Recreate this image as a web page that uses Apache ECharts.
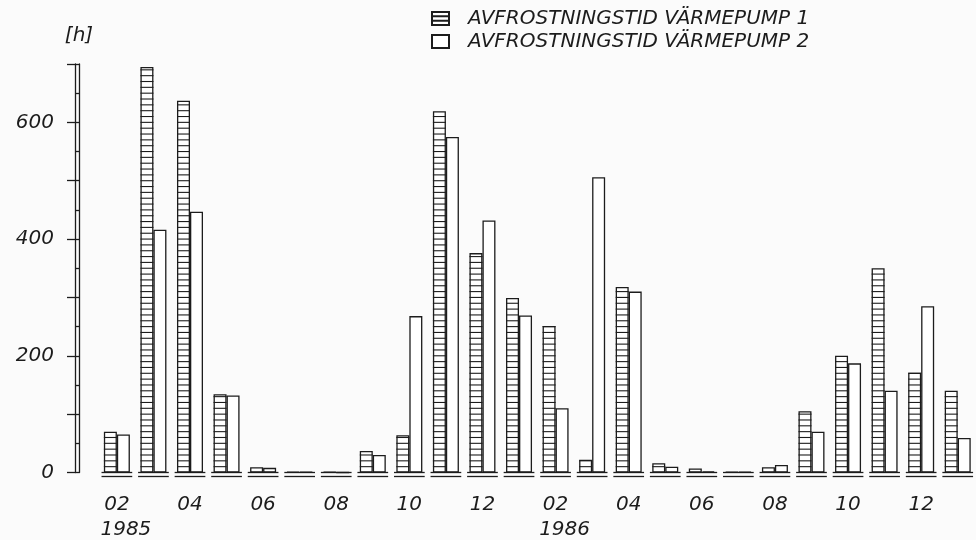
<!DOCTYPE html>
<html>
<head>
<meta charset="utf-8">
<script src="https://cdn.jsdelivr.net/npm/echarts@6/dist/echarts.min.js"></script>
<style>
  html, body { margin: 0; padding: 0; background: #fbfbfb; }
  #chart { width: 976px; height: 540px; }
</style>
</head>
<body>
<div id="chart"></div>
<script>
// Monthly defrost time, Feb 1985 – Jan 1987
const months = ['02','03','04','05','06','07','08','09','10','11','12','01',
                '02','03','04','05','06','07','08','09','10','11','12','01'];
const years = ['1985','','','','','','','','','','','',
               '1986','','','','','','','','','','',''];
const pump1 = [70, 695, 637, 134, 9, 1, 1, 37, 64, 619, 376, 299,
               251, 22, 318, 16, 7, 1, 9, 105, 200, 350, 171, 140];
const pump2 = [65, 416, 447, 132, 8, 1, 0, 30, 268, 575, 432, 269,
               110, 506, 310, 10, 2, 1, 13, 70, 187, 140, 285, 59];
const yLabelValues = [0, 200, 400, 600];
const seriesNames = ['AVFROSTNINGSTID VÄRMEPUMP 1', 'AVFROSTNINGSTID VÄRMEPUMP 2'];

const INK = '#1c1c1c';
const FONT = {
  fontFamily: 'DejaVu Sans',
  fontStyle: 'italic',
  fontWeight: 200,
  fontSize: 20,
  color: INK
};
const BAR_W = 13;

const chart = echarts.init(document.getElementById('chart'), null, { renderer: 'canvas' });

chart.setOption({
  backgroundColor: '#fbfbfb',
  animation: false,
  grid: { left: 98.6, right: -4.6, top: 64, bottom: 66 },
  legend: {
    orient: 'vertical',
    left: 431,
    top: 8.5,
    padding: 0,
    itemWidth: 17,
    itemHeight: 13,
    itemGap: 3,
    selectedMode: false,
    textStyle: Object.assign({}, FONT, { padding: [0, 0, 0, 14], lineHeight: 20 }),
    data: [
      { name: seriesNames[0], icon: 'path://M0,0H17V13H0Z M0,4.33H17 M0,8.67H17' },
      { name: seriesNames[1], icon: 'rect' }
    ]
  },
  xAxis: {
    type: 'category',
    data: months,
    axisLine: { show: false },
    axisTick: { show: false },
    axisLabel: {
      interval: 1,
      margin: 20,
      formatter: (v, i) => years[i]
        ? '{m|' + v + '}\n{y|' + years[i] + '}'
        : '{m|' + v + '}',
      rich: {
        m: Object.assign({}, FONT, { lineHeight: 25 }),
        y: Object.assign({}, FONT, { lineHeight: 25, padding: [0, 0, 0, 18] })
      }
    }
  },
  yAxis: [
    {
      type: 'value',
      position: 'left',
      min: 0,
      max: 700,
      interval: 100,
      offset: 19.6,
      name: '[h]',
      nameLocation: 'end',
      nameGap: 18,
      nameTextStyle: Object.assign({}, FONT, { align: 'center' }),
      axisLine: { show: true, lineStyle: { color: INK, width: 1.3 } },
      axisTick: { show: true, length: 12, lineStyle: { color: INK, width: 1.3 } },
      minorTick: { show: true, splitNumber: 2, length: 3.4, lineStyle: { color: INK, width: 1.3 } },
      splitLine: { show: false },
      axisLabel: Object.assign({}, FONT, {
        margin: 25,
        formatter: v => yLabelValues.includes(v) ? String(v) : ''
      })
    },
    {
      // inner rail of the double axis line
      type: 'value',
      position: 'left',
      min: 0,
      max: 700,
      interval: 100,
      offset: 23,
      axisLine: { show: true, lineStyle: { color: INK, width: 1.3 } },
      axisTick: { show: false },
      axisLabel: { show: false },
      splitLine: { show: false }
    }
  ],
  series: [
    {
      name: seriesNames[0],
      type: 'bar',
      data: pump1,
      barWidth: BAR_W,
      barGap: '0%',
      itemStyle: { color: '#ffffff', borderColor: INK, borderWidth: 1.3 },
      z: 2
    },
    {
      name: seriesNames[1],
      type: 'bar',
      data: pump2,
      barWidth: BAR_W,
      barGap: '0%',
      itemStyle: { color: '#ffffff', borderColor: INK, borderWidth: 1.3 },
      z: 2
    },
    {
      // horizontal hatching of pump 1 bars, one line every 10 h
      type: 'custom',
      data: pump1.map((v, i) => [i, v]),
      encode: { x: 0, y: 1 },
      silent: true,
      z: 3,
      renderItem: (params, api) => {
        const idx = api.value(0);
        const v = api.value(1);
        const base = api.coord([idx, 0]);
        const children = [];
        for (let k = 10; k < v; k += 10) {
          const y = api.coord([idx, k])[1];
          children.push({
            type: 'line',
            shape: { x1: base[0] - BAR_W, y1: y, x2: base[0], y2: y },
            style: { stroke: INK, lineWidth: 1.1 }
          });
        }
        return { type: 'group', children };
      }
    },
    {
      // double base line beneath each month
      type: 'custom',
      data: months.map((m, i) => [i, 0]),
      encode: { x: 0, y: 1 },
      silent: true,
      z: 4,
      renderItem: (params, api) => {
        const idx = api.value(0);
        const c = api.coord([idx, 0]);
        const half = api.size([1, 0])[0] * 0.42;
        return {
          type: 'group',
          children: [0, 4].map(dy => ({
            type: 'line',
            shape: { x1: c[0] - half, y1: c[1] + dy, x2: c[0] + half, y2: c[1] + dy },
            style: { stroke: INK, lineWidth: 1.3 }
          }))
        };
      }
    }
  ]
});
</script>
</body>
</html>
